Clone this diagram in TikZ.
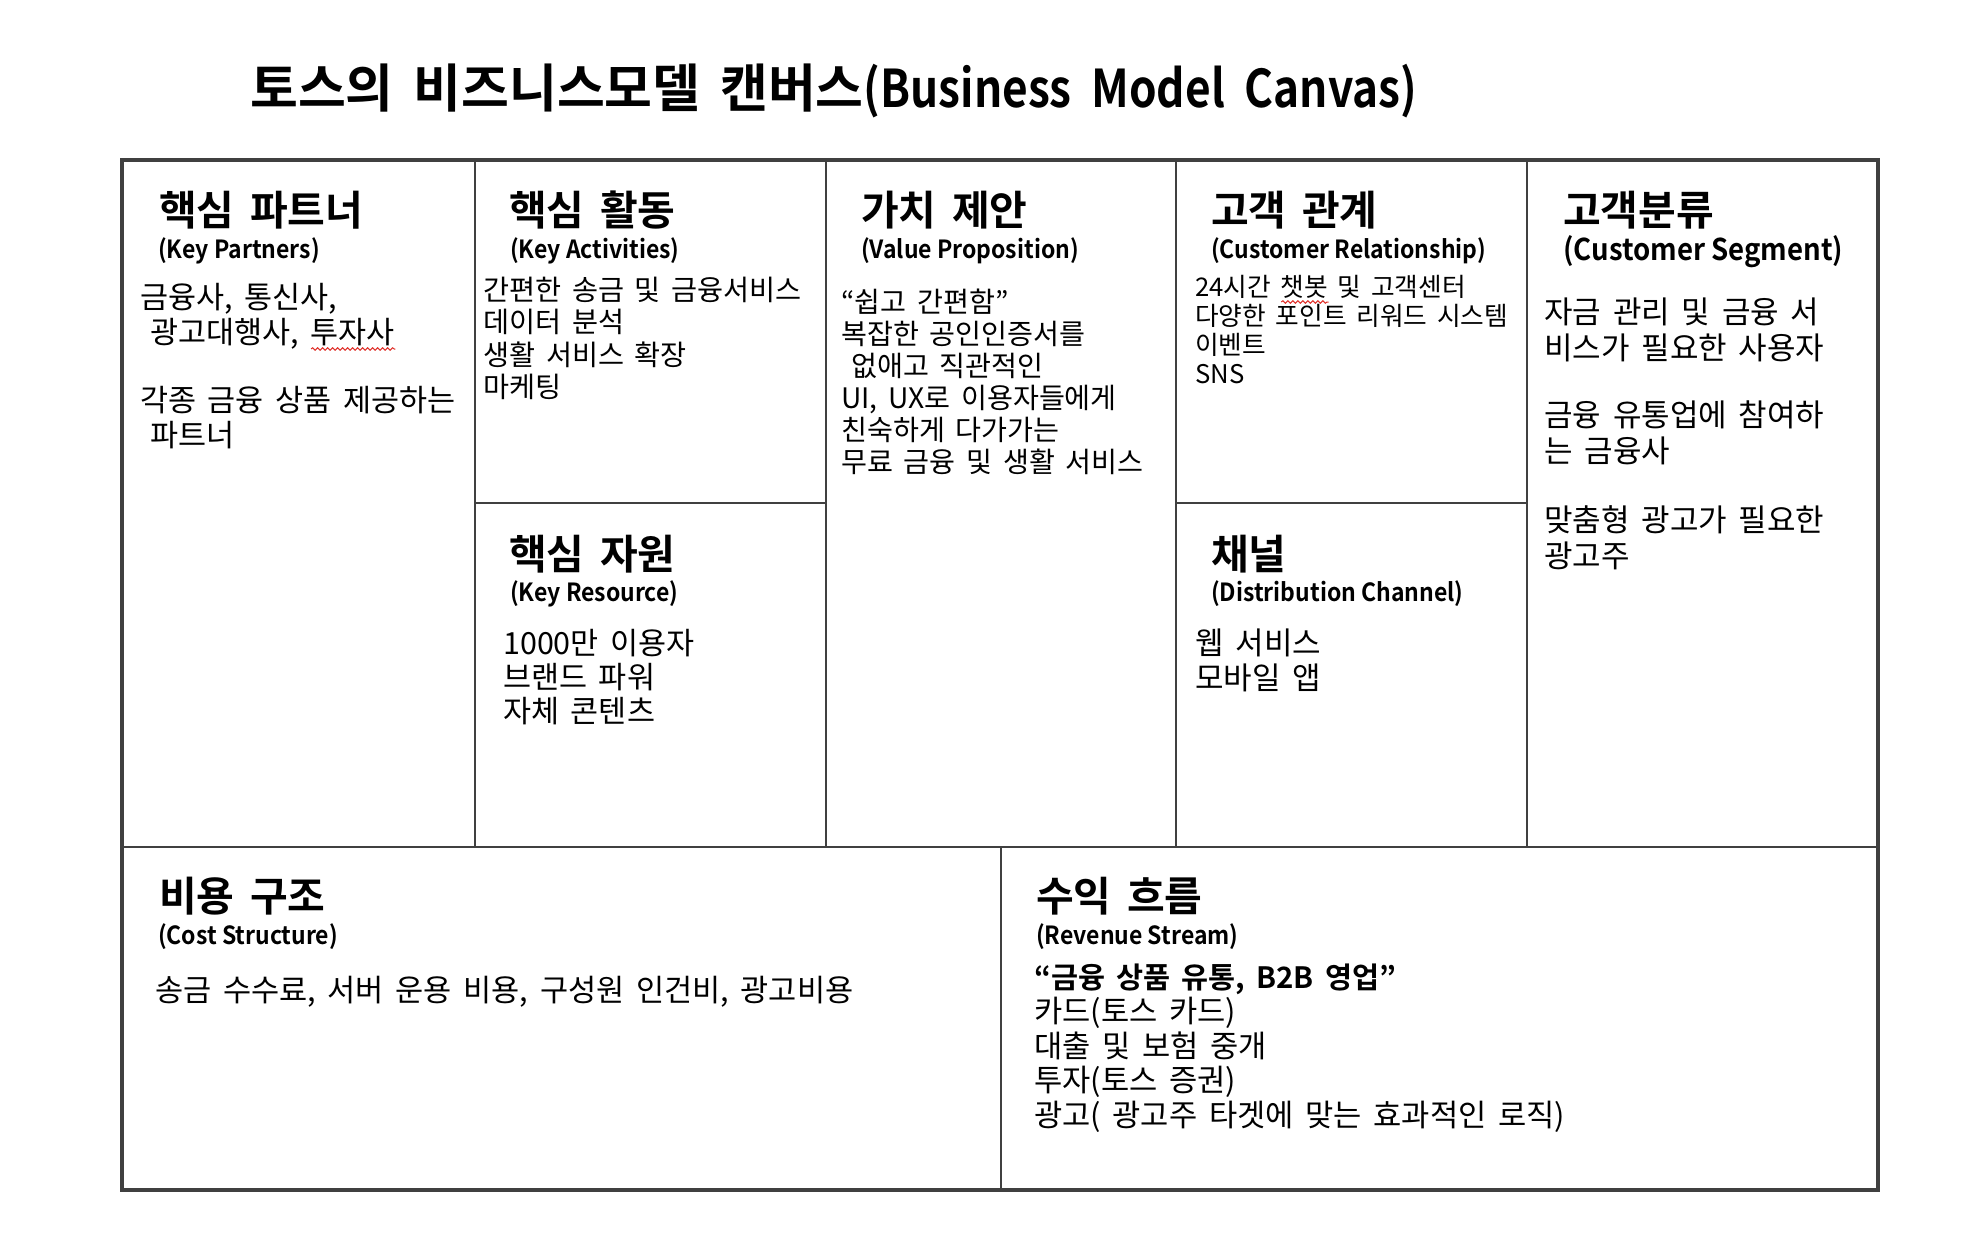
\documentclass[tikz,border=0pt]{standalone}
\usepackage{fontspec}
\setmainfont{Noto Sans CJK KR}[BoldFont={Noto Sans CJK KR Bold}]
\newfontfamily\narrowfont{Noto Sans CJK KR}[BoldFont={Noto Sans CJK KR Bold}, FakeStretch=0.92]
\newfontfamily\titlelatin{Noto Sans CJK KR}[BoldFont={Noto Sans CJK KR Bold}, FakeStretch=0.85]
\usepackage{tikz}
\usetikzlibrary{positioning,decorations.pathmorphing}
\definecolor{canvasLine}{HTML}{404040}
\definecolor{spellRed}{HTML}{E0302A}
\newcommand\widegap{\spaceskip=0.38em\relax}
\newlength\spellwd
\newcommand\spellmark[1]{\settowidth{\spellwd}{#1}\makebox[0pt][l]{\tikz[baseline=0pt]\draw[spellRed, line width=1pt, decorate, decoration={snake, amplitude=1.2pt, segment length=5pt}] (0pt,-6pt) -- (\spellwd,-6pt);}#1}
\tikzset{
  gridline/.style={draw=canvasLine, line width=2.5pt},
  gridframe/.style={draw=canvasLine, line width=4pt},
  titletext/.style={anchor=base west, inner sep=0pt, font=\bfseries\fontsize{52}{60}\selectfont\widegap},
  blockhead/.style={anchor=base west, inner sep=0pt, font=\bfseries\fontsize{41}{46}\selectfont\widegap},
  blocksub/.style={anchor=base west, inner sep=0pt, font=\narrowfont\bfseries\fontsize{#1}{30}\selectfont},
  blocksub/.default=25,
  % base anchor of a multi-line node sits on its last line
  blockbody/.style 2 args={anchor=base west, inner sep=0pt, align=left, font=\fontsize{#1}{#2}\selectfont\widegap}
}

\begin{document}
\begin{tikzpicture}[x=1pt, y=-1pt]
    \useasboundingbox[fill=white] (0,0) rectangle (1962,1234);

    \node[titletext] (title) at (250,107) {토스의 비즈니스모델 캔버스\titlelatin(Business Model Canvas)};

    % canvas grid
    \draw[gridline] (475,160) -- (475,847);
    \draw[gridline] (826,160) -- (826,847);
    \draw[gridline] (1176,160) -- (1176,847);
    \draw[gridline] (1527,160) -- (1527,847);
    \draw[gridline] (475,503) -- (826,503);
    \draw[gridline] (1176,503) -- (1527,503);
    \draw[gridline] (122,847) -- (1878,847);
    \draw[gridline] (1001,847) -- (1001,1190);
    \draw[gridframe] (122,160) rectangle (1878,1190);

    % key partners
    \node[blockhead] (kp head) at (159,225) {핵심 파트너};
    \node[blocksub] (kp sub) at (158,258) {(Key Partners)};
    \node[blockbody={30.5}{35}] (kp body) at (140,446)
      {금융사, 통신사,\\\hspace*{10pt}광고대행사, \spellmark{투자사}\\[33pt]각종 금융 상품 제공하는\\\hspace*{10pt}파트너};

    % key activities / key resource
    \node[blockhead] (ka head) at (509,225) {핵심 활동};
    \node[blocksub] (ka sub) at (510,258) {(Key Activities)};
    \node[blockbody={28.3}{32.3}] (ka body) at (483,397.5)
      {간편한 송금 및 금융서비스\\데이터 분석\\생활 서비스 확장\\마케팅};
    \node[blockhead] (kr head) at (509,569) {핵심 자원};
    \node[blocksub] (kr sub) at (510,601) {(Key Resource)};
    \node[blockbody={30.5}{34}] (kr body) at (503,722)
      {1000만 이용자\\브랜드 파워\\자체 콘텐츠};

    % value proposition
    \node[blockhead] (vp head) at (861,225) {가치 제안};
    \node[blocksub] (vp sub) at (861,258) {(Value Proposition)};
    \node[blockbody={28.2}{32}] (vp body) at (841,472.5)
      {“쉽고 간편함”\\복잡한 공인인증서를\\\hspace*{10pt}없애고 직관적인\\UI, UX로 이용자들에게\\친숙하게 다가가는\\무료 금융 및 생활 서비스};

    % customer relationship / channel
    \node[blockhead] (cr head) at (1211,225) {고객 관계};
    \node[blocksub] (cr sub) at (1211,258) {(Customer Relationship)};
    \node[blockbody={25.7}{29}] (cr body) at (1195,383)
      {24시간 \spellmark{챗봇} 및 고객센터\\다양한 포인트 리워드 시스템\\이벤트\\SNS};
    \node[blockhead] (ch head) at (1211,569) {채널};
    \node[blocksub] (ch sub) at (1211,601) {(Distribution Channel)};
    \node[blockbody={31}{35}] (ch body) at (1195,689.5) {웹 서비스\\모바일 앱};

    % customer segment
    \node[blockhead] (cs head) at (1563,225) {고객분류};
    \node[blocksub=30] (cs sub) at (1563,260.5) {(Customer Segment)};
    \node[blockbody={31}{36}] (cs body) at (1544,567.5)
      {자금 관리 및 금융 서\\비스가 필요한 사용자\\[31pt]금융 유통업에 참여하\\는 금융사\\[33pt]맞춤형 광고가 필요한\\광고주};

    % cost structure / revenue stream
    \node[blockhead] (cost head) at (159,911) {비용 구조};
    \node[blocksub] (cost sub) at (158,944) {(Cost Structure)};
    \node[blockbody={30.6}{35}] (cost body) at (155,1001.3)
      {송금 수수료, 서버 운용 비용, 구성원 인건비, 광고비용};
    \node[blockhead] (rev head) at (1036,911) {수익 흐름};
    \node[blocksub] (rev sub) at (1036,944) {(Revenue Stream)};
    \node[blockbody={30.7}{34.5}] (rev body) at (1034,1126.3)
      {{\bfseries\fontsize{29.4}{34.5}\selectfont\widegap “금융 상품 유통, B2B 영업”}\\카드(토스 카드)\\대출 및 보험 중개\\투자(토스 증권)\\광고( 광고주 타겟에 맞는 효과적인 로직)};
\end{tikzpicture}
\end{document}
